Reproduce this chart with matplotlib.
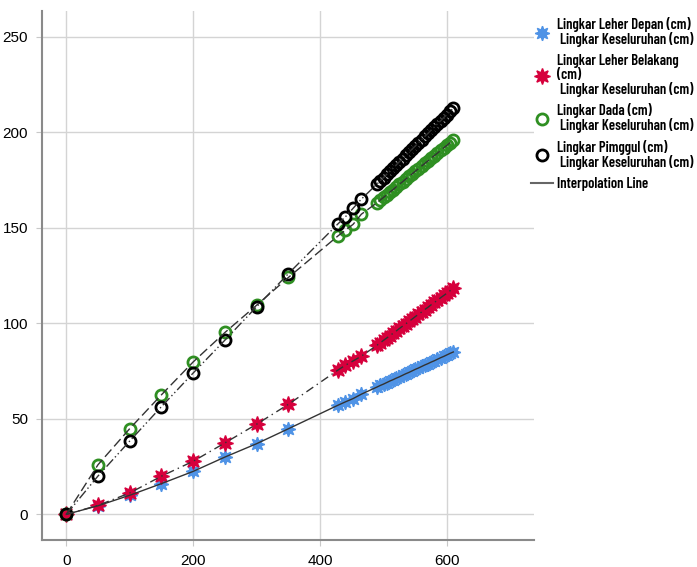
import matplotlib
matplotlib.use("Agg")
import matplotlib.pyplot as plt
from matplotlib.lines import Line2D

# x = Lingkar Keseluruhan (cm)
keseluruhan = [0, 50, 100, 150, 200, 250, 300, 350, 428, 440, 452, 465,
               490, 495, 500, 505, 510, 515, 520, 525, 530, 535, 540, 545,
               550, 555, 560, 565, 570, 575, 580, 585, 590, 595, 600, 605, 610]

leher_depan = [0, 4.5, 10.0, 16.1, 22.5, 30.0, 37.0, 44.8, 57.1, 58.9, 60.6, 62.9,
               66.7, 67.5, 68.2, 69.0, 69.8, 70.5, 71.3, 72.0, 72.8, 73.6, 74.3, 75.1,
               75.9, 76.6, 77.4, 78.2, 78.9, 79.7, 80.4, 81.2, 82.0, 82.7, 83.5, 84.3, 85.0]

leher_belakang = [0, 4.7, 11.2, 20.0, 27.8, 37.4, 47.2, 57.6, 75.5, 78.1, 80.3, 82.8,
                  88.6, 89.8, 91.1, 92.3, 93.5, 94.8, 96.0, 97.3, 98.5, 99.7, 101.0, 102.2,
                  103.5, 104.7, 105.9, 107.2, 108.4, 109.7, 110.9, 112.1, 113.4, 114.6,
                  115.8, 117.1, 118.3]

dada = [0, 26.0, 44.9, 62.6, 79.8, 95.2, 109.5, 124.0, 145.7, 148.8, 151.8, 157.1,
        163.2, 164.6, 165.9, 167.3, 168.7, 170.0, 171.4, 172.8, 174.1, 175.5, 176.9,
        178.2, 179.6, 180.9, 182.3, 183.7, 185.0, 186.4, 187.8, 189.1, 190.5, 191.9,
        193.2, 194.6, 196.0]

pinggul = [0, 20.1, 38.4, 56.4, 74.0, 91.2, 108.7, 126.0, 152.0, 155.8, 160.2, 165.0,
           173.0, 174.7, 176.3, 178.0, 179.6, 181.3, 182.9, 184.6, 186.2, 187.9, 189.5,
           191.2, 192.8, 194.5, 196.1, 197.8, 199.4, 201.1, 202.7, 204.4, 206.0, 207.7,
           209.3, 211.0, 212.6]

labels = ["Lingkar Leher Depan (cm)\n Lingkar Keseluruhan (cm)",
          "Lingkar Leher Belakang\n(cm)\n Lingkar Keseluruhan (cm)",
          "Lingkar Dada (cm)\n Lingkar Keseluruhan (cm)",
          "Lingkar Pimggul (cm)\n Lingkar Keseluruhan (cm)"]

blue = "#4F93E6"
red = "#D6003C"
green = "#2F8F22"
star = (8, 1, 0)

plt.rcParams['font.family'] = ['Liberation Sans', 'DejaVu Sans']

fig = plt.figure(figsize=(6.97, 5.67), dpi=100)
ax = fig.add_axes([0.060, 0.047, 0.706, 0.934])

ax.plot(keseluruhan, leher_depan, ls="none", marker=star, ms=10.5, color=blue, mec=blue, zorder=3)
ax.plot(keseluruhan, leher_belakang, ls="none", marker=star, ms=11.5, color=red, mec=red, zorder=3)
ax.plot(keseluruhan, dada, ls="none", marker="o", ms=8, mfc="none", mec=green, mew=2, zorder=3)
ax.plot(keseluruhan, pinggul, ls="none", marker="o", ms=8, mfc="none", mec="black", mew=2, zorder=3)

lc = "#333333"
ax.plot(keseluruhan, leher_depan, ls="-", color=lc, lw=1, zorder=4)
ax.plot(keseluruhan, leher_belakang, ls=(0, (6, 3, 1, 3)), color=lc, lw=1, zorder=4)
ax.plot(keseluruhan, dada, ls=(0, (7, 3)), color=lc, lw=1, zorder=4)
ax.plot(keseluruhan, pinggul, ls=(0, (7, 2, 1, 2, 1, 2)), color=lc, lw=1, zorder=4)

ax.set_xlim(-38.6, 737)
ax.set_ylim(-13.6, 263.6)
ax.set_xticks([0, 200, 400, 600])
ax.set_yticks([0, 50, 100, 150, 200, 250])
ax.grid(True, color="#d4d4d4", lw=1)
ax.set_axisbelow(True)
for s in ["top", "right"]:
    ax.spines[s].set_visible(False)
for s in ["left", "bottom"]:
    ax.spines[s].set_color("#8a8a8a")
    ax.spines[s].set_linewidth(1.5)
ax.tick_params(length=4, color="#c8c8c8", labelsize=11, pad=6)

handles = [
    Line2D([], [], ls="none", marker=star, ms=10.5, color=blue),
    Line2D([], [], ls="none", marker=star, ms=11.5, color=red),
    Line2D([], [], ls="none", marker="o", ms=8, mfc="none", mec=green, mew=2),
    Line2D([], [], ls="none", marker="o", ms=8, mfc="none", mec="black", mew=2),
    Line2D([], [], ls="-", color="#666666", lw=1.5),
]
leg = fig.legend(handles, labels + ["Interpolation Line"], loc="upper left",
                 bbox_to_anchor=(0.753, 0.98), frameon=False, handlelength=1.5,
                 handletextpad=0.3, labelspacing=0.45, borderaxespad=0,
                 prop={"family": ["Barlow Condensed", "DejaVu Sans"],
                       "weight": 600, "size": 10.6})
for t in leg.get_texts():
    t.set_linespacing(1.0)

fig.savefig("out.png", dpi=100)
